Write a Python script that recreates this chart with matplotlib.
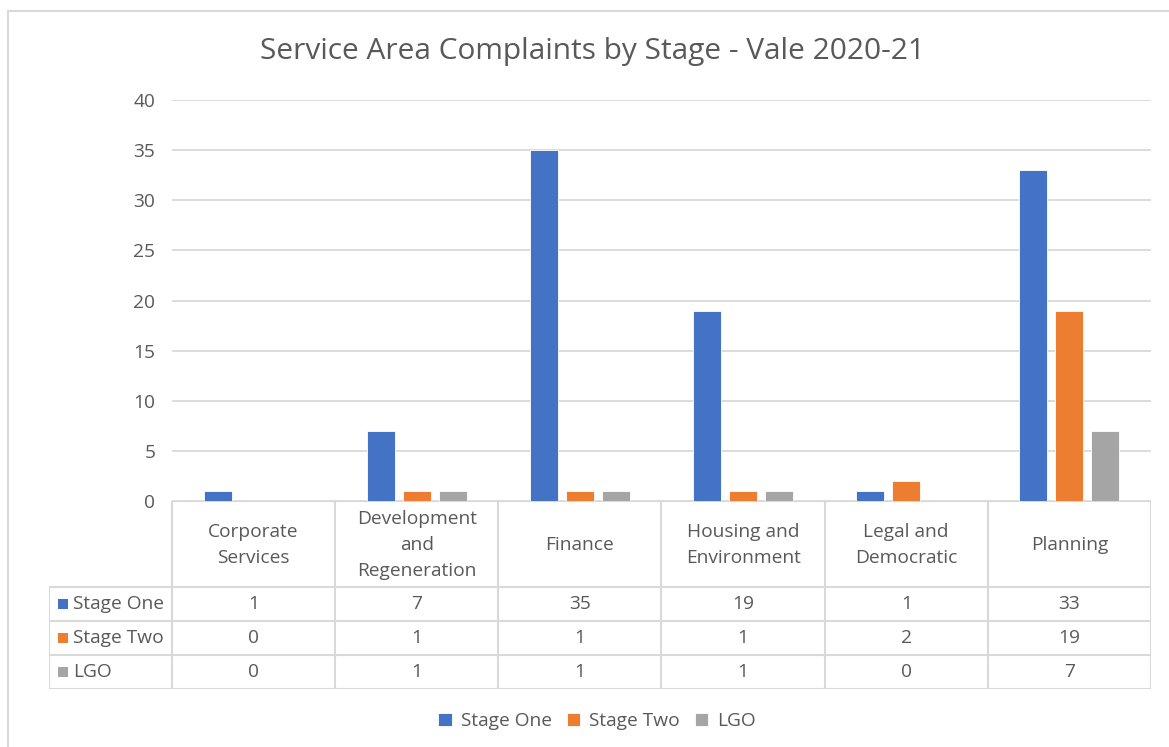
import matplotlib
matplotlib.use("Agg")
import matplotlib.pyplot as plt
from matplotlib.patches import Rectangle
from matplotlib.lines import Line2D

categories = ["Corporate\nServices", "Development\nand\nRegeneration", "Finance",
              "Housing and\nEnvironment", "Legal and\nDemocratic", "Planning"]
series_names = ["Stage One", "Stage Two", "LGO"]
stage_one = [1, 7, 35, 19, 1, 33]
stage_two = [0, 1, 1, 1, 2, 19]
lgo = [0, 1, 1, 1, 0, 7]
colors = ["#4472C4", "#ED7D31", "#A5A5A5"]
title = "Service Area Complaints by Stage - Vale 2020-21"
yticks = [0, 5, 10, 15, 20, 25, 30, 35, 40]

plt.rcParams['font.family'] = ['Open Sans', 'DejaVu Sans']
TXT = "#595959"
GRID = "#D9D9D9"
FS = 13.8

W, H = 1169, 747
fig = plt.figure(figsize=(W / 100, H / 100), dpi=100)

def fx(px):
    return px / W

def fy(py):
    return 1 - py / H

# outer chart border
fig.patches.append(Rectangle((fx(8), fy(760)), fx(1180 - 8), fy(11) - fy(760),
                             transform=fig.transFigure, fill=False,
                             edgecolor=GRID, linewidth=1.5))

L, R, T, B = 172, 1151, 100, 501
ax = fig.add_axes([fx(L), fy(B), fx(R - L), fy(T) - fy(B)])
n = len(categories)
ax.set_xlim(-0.5, n - 0.5)
ax.set_ylim(0, 40)
ax.set_yticks(yticks)
ax.tick_params(axis='y', length=0, labelsize=FS, labelcolor=TXT, pad=12)
ax.set_xticks([])
for s in ax.spines.values():
    s.set_visible(False)
ax.yaxis.grid(True, color=GRID, linewidth=1.3)
ax.set_axisbelow(True)

unit = (R - L) / n
bw = 28 / unit
step = 36 / unit
data = [stage_one, stage_two, lgo]
for i, (vals, c, name) in enumerate(zip(data, colors, series_names)):
    xs = [k + (i - 1) * step for k in range(n)]
    ax.bar(xs, vals, width=bw, color=c, edgecolor="white", linewidth=0.6, label=name, zorder=3)

fig.text(fx(593), fy(52), title, ha='center', va='center', fontsize=21.5, color=TXT)

# data table axes
TL, TB = 49, 689
tax = fig.add_axes([fx(TL), fy(TB), fx(R - TL), fy(B) - fy(TB)])
x_left = -0.5 - (L - TL) / unit
tax.set_xlim(x_left, n - 0.5)
tax.set_ylim(TB - B, 0)
tax.axis('off')

lw = 1.5
row_y = [0, 86, 120, 154, 188]
tax.add_line(Line2D([-0.5, n - 0.5], [0, 0], color=GRID, lw=lw))
for yv in row_y[1:]:
    tax.add_line(Line2D([x_left, n - 0.5], [yv, yv], color=GRID, lw=lw))
for k in range(n + 1):
    tax.add_line(Line2D([k - 0.5, k - 0.5], [0, 188], color=GRID, lw=lw))
tax.add_line(Line2D([x_left, x_left], [86, 188], color=GRID, lw=lw))

for k, cat in enumerate(categories):
    tax.text(k, 44, cat, ha='center', va='center', fontsize=FS, color=TXT,
             linespacing=1.55)
for r, (vals, c, name) in enumerate(zip(data, colors, series_names)):
    yc = (row_y[r + 1] + row_y[r + 2]) / 2
    for k, v in enumerate(vals):
        tax.text(k, yc, str(v), ha='center', va='center', fontsize=FS, color=TXT)
    xd = x_left + (58 - TL) / unit
    tax.add_patch(Rectangle((xd, yc - 5), 10 / unit, 10, color=c, lw=0))
    tax.text(x_left + (73 - TL) / unit, yc, name, ha='left', va='center',
             fontsize=FS, color=TXT)

handles, labels = ax.get_legend_handles_labels()
leg = fig.legend(handles, labels, loc='center', bbox_to_anchor=(fx(597), fy(721)),
                 ncol=3, frameon=False, fontsize=FS, handlelength=0.7, handleheight=0.7,
                 handletextpad=0.45, columnspacing=0.8, labelcolor=TXT)

fig.savefig("out.png", dpi=100)
